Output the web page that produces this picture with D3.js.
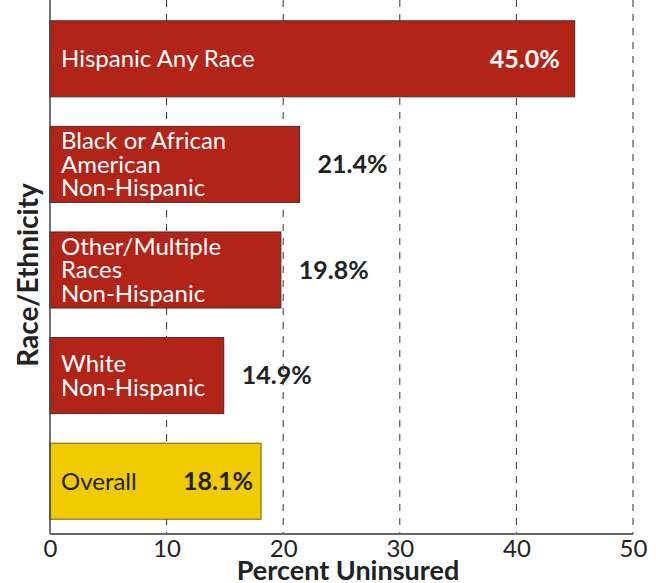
<!DOCTYPE html>
<html>
<head>
<meta charset="utf-8">
<script src="https://cdn.jsdelivr.net/npm/d3@7"></script>
<style>
  html, body { margin: 0; padding: 0; background: #fff; }
  svg { display: block; font-family: Lato, "Open Sans", sans-serif; }
</style>
</head>
<body>
<svg id="chart" width="656" height="583"></svg>
<script>
// ---- data ----
const categories = ["Hispanic Any Race", "Black or African American Non-Hispanic", "Other/Multiple Races Non-Hispanic", "White Non-Hispanic", "Overall"];
const labelLines = [["Hispanic Any Race"], ["Black or African", "American", "Non-Hispanic"], ["Other/Multiple", "Races", "Non-Hispanic"], ["White", "Non-Hispanic"], ["Overall"]];
const values = [45.0, 21.4, 19.8, 14.9, 18.1];
const valueLabels = ["45.0%", "21.4%", "19.8%", "14.9%", "18.1%"];
const xTicks = [0, 10, 20, 30, 40, 50];
const xTitle = "Percent Uninsured";
const yTitle = "Race/Ethnicity";

const svg = d3.select("#chart");
const x = d3.scaleLinear().domain([0, 50]).range([50, 633]);
const y = d3.scaleBand().domain(categories).range([6, 534]).paddingInner(0.28).paddingOuter(0.14);
const rows = categories.map((c, i) => ({ c, v: values[i], lines: labelLines[i], vl: valueLabels[i], i }));
const isOverall = d => d.c === "Overall";
const inside = d => d.v > 40 || isOverall(d);

// value labels outside bars (drawn before gridlines, as in reference)
svg.append("g").selectAll("text").data(rows.filter(d => !inside(d))).join("text")
  .attr("x", d => x(d.v) + 18)
  .attr("y", d => y(d.c) + y.bandwidth() / 2)
  .attr("dy", "0.35em")
  .attr("font-size", 25).attr("font-weight", 700).attr("fill", "#222")
  .text(d => d.vl);

// gridlines
svg.append("g").selectAll("line").data(xTicks.filter(t => t > 0)).join("line")
  .attr("x1", d => x(d)).attr("x2", d => x(d))
  .attr("y1", 0).attr("y2", 534)
  .attr("stroke", "#333").attr("stroke-width", 1).attr("stroke-dasharray", "7,7");

// bars
svg.append("g").selectAll("rect").data(rows).join("rect")
  .attr("x", x(0)).attr("y", d => y(d.c))
  .attr("width", d => x(d.v) - x(0)).attr("height", y.bandwidth())
  .attr("fill", d => isOverall(d) ? "#F0CB00" : "#B22318")
  .attr("stroke", d => isOverall(d) ? "#6e5f10" : "#4a2a22").attr("stroke-width", 1);

// category labels
const lh = 23.5;
const lab = svg.append("g").selectAll("text").data(rows).join("text")
  .attr("font-size", 24)
  .attr("fill", d => isOverall(d) ? "#222" : "#fff");
lab.selectAll("tspan").data(d => d.lines.map((t, j) => ({ t, j, n: d.lines.length, d }))).join("tspan")
  .attr("x", x(0) + 11)
  .attr("y", e => y(e.d.c) + y.bandwidth() / 2 + (e.j - (e.n - 1) / 2) * lh)
  .attr("dy", "0.35em")
  .text(e => e.t);

// inside value labels
svg.append("g").selectAll("text").data(rows.filter(inside)).join("text")
  .attr("x", d => x(d.v) - (isOverall(d) ? 8 : 15))
  .attr("y", d => y(d.c) + y.bandwidth() / 2)
  .attr("dy", "0.35em")
  .attr("text-anchor", "end")
  .attr("font-size", 25).attr("font-weight", 700)
  .attr("fill", d => isOverall(d) ? "#222" : "#fff")
  .text(d => d.vl);

// axes
svg.append("line").attr("x1", x(0)).attr("x2", x(0)).attr("y1", 0).attr("y2", 534)
  .attr("stroke", "#444").attr("stroke-width", 1.5);
const xAxis = svg.append("g").attr("transform", "translate(0,534)")
  .call(d3.axisBottom(x).tickValues(xTicks).tickSize(0).tickPadding(6));
xAxis.select(".domain").attr("stroke", "#666").attr("stroke-width", 2).attr("d", `M${x(0)},0H${x(50)}`);
xAxis.selectAll("text").attr("font-size", 24).attr("fill", "#222").attr("font-family", "Lato, sans-serif");

svg.append("text").attr("x", 348).attr("y", 580)
  .attr("text-anchor", "middle").attr("font-size", 27).attr("font-weight", 700).attr("fill", "#222")
  .text(xTitle);
svg.append("text").attr("transform", "translate(38,275) rotate(-90)")
  .attr("text-anchor", "middle").attr("font-size", 28).attr("font-weight", 700).attr("fill", "#222")
  .text(yTitle);
</script>
</body>
</html>
